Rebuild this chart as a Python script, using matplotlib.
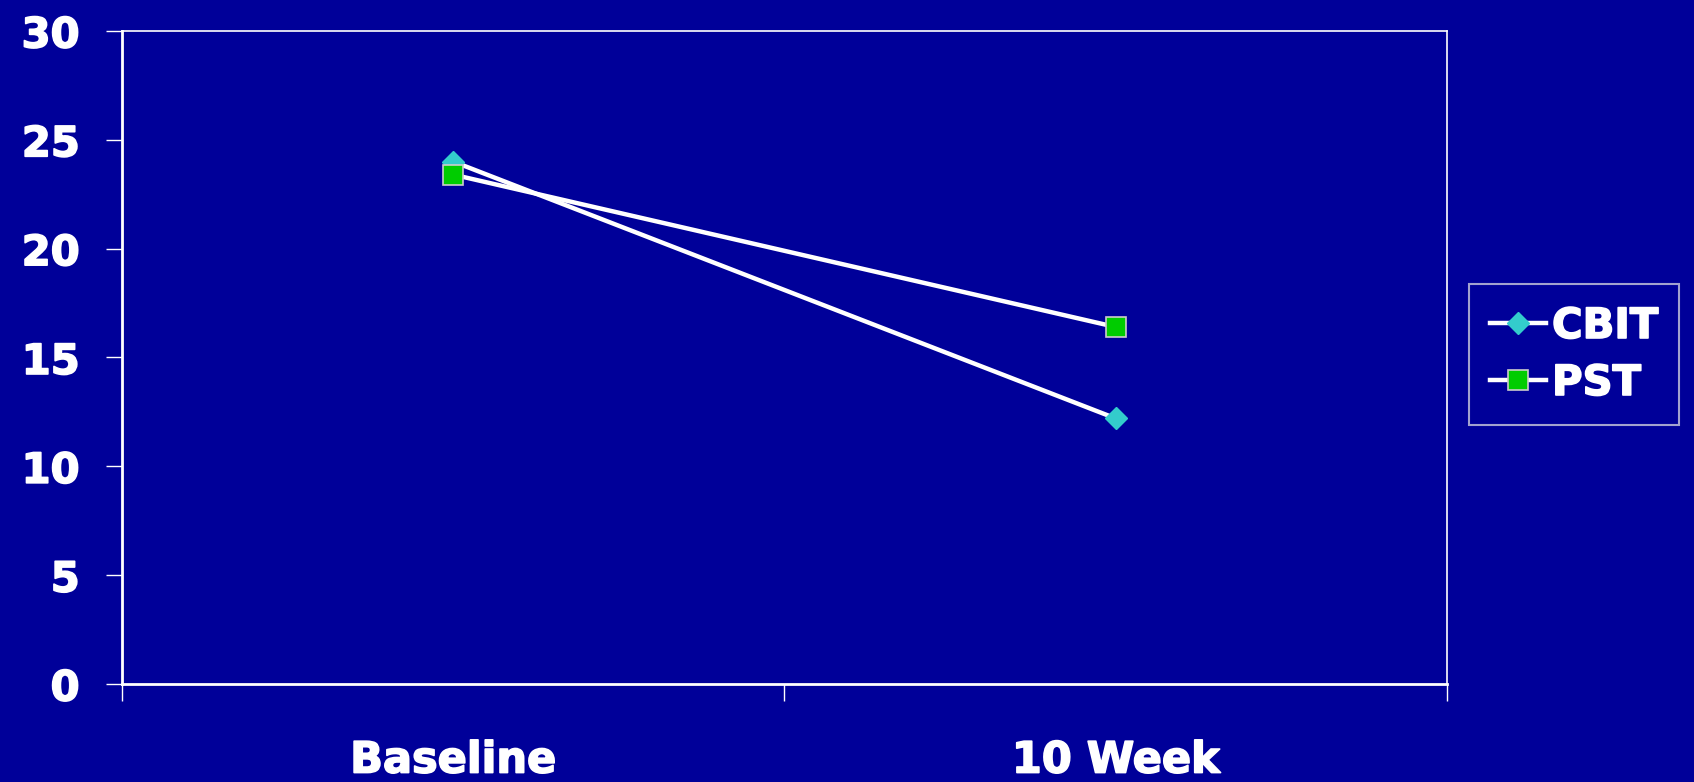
import matplotlib
matplotlib.use("Agg")
import matplotlib.pyplot as plt
import matplotlib.patheffects as pe

BG = "#000099"

timepoints = ["Baseline", "10 Week"]
cbit = [24.0, 12.2]
pst = [23.4, 16.4]
yticks = [0, 5, 10, 15, 20, 25, 30]

plt.rcParams["font.family"] = ["DejaVu Sans"]
plt.rcParams["font.weight"] = "bold"

# slightly heavier strokes to resemble the original Tahoma Bold
heavy = [pe.withStroke(linewidth=1.2, foreground="white")]

fig = plt.figure(figsize=(16.94, 7.82), dpi=100, facecolor=BG)
ax = fig.add_axes([0.0720, 0.1253, 0.7822, 0.8351], facecolor=BG)

x = list(range(len(timepoints)))
ax.plot(x, cbit, color="white", lw=3.2, marker="D", markersize=11,
        markerfacecolor="#33CCCC", markeredgecolor="#33CCCC", label="CBIT", zorder=3)
ax.plot(x, pst, color="white", lw=3.2, marker="s", markersize=15,
        markerfacecolor="#00CC00", markeredgecolor="#CCCCCC", markeredgewidth=1.2,
        label="PST", zorder=4)

ax.set_xlim(-0.5, len(timepoints) - 0.5)
ax.set_ylim(0, 30)
ax.set_yticks(yticks)
ax.set_yticklabels([str(v) for v in yticks], fontsize=30, fontweight="bold", color="white")

# category labels centred between boundary ticks
ax.set_xticks([i - 0.5 for i in range(len(timepoints) + 1)])
ax.set_xticklabels([])
ax.set_xticks(x, minor=True)
ax.set_xticklabels(timepoints, minor=True, fontsize=31, fontweight="bold", color="white")
ax.tick_params(axis="x", which="minor", length=0, pad=40)
ax.tick_params(axis="x", which="major", length=12, width=1, color="white")
ax.tick_params(axis="y", length=11.5, width=1, color="white", pad=19)

for lbl in ax.get_yticklabels() + ax.get_xticklabels(minor=True):
    lbl.set_path_effects(heavy)

for side in ["left", "bottom"]:
    ax.spines[side].set_color("white")
    ax.spines[side].set_linewidth(2)
for side in ["top", "right"]:
    ax.spines[side].set_color("white")
    ax.spines[side].set_linewidth(1.2)

leg = fig.legend(loc="center left", bbox_to_anchor=(0.867, 0.5467),
                 fontsize=30, frameon=True, fancybox=False, handlelength=1.35,
                 handletextpad=0.15, labelspacing=0.36, borderpad=0.5,
                 borderaxespad=0)
leg.get_frame().set_facecolor(BG)
leg.get_frame().set_edgecolor("#CCCCDD")
leg.get_frame().set_linewidth(1.5)
for t in leg.get_texts():
    t.set_color("white")
    t.set_fontweight("bold")
    t.set_path_effects(heavy)

fig.savefig("out.png", dpi=100, facecolor=BG)
